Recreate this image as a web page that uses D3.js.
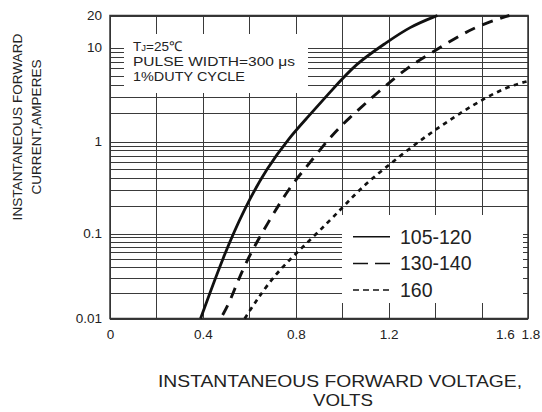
<!DOCTYPE html>
<html>
<head>
<meta charset="utf-8">
<script src="https://cdn.jsdelivr.net/npm/d3@7"></script>
<style>
  body { margin: 0; background: #fff; }
  svg text { font-family: 'Liberation Sans', Arial, sans-serif; fill: #222; }
</style>
</head>
<body>
<div id="chart"></div>
<script>
// forward voltage (V) vs instantaneous forward current (A)
const solidV = [0.39, 0.49, 0.58, 0.675, 0.775, 0.84, 0.95, 1.06, 1.185, 1.29, 1.41];
const solidI = [0.010, 0.056, 0.19, 0.515, 1.12, 1.69, 3.4, 6.8, 10.9, 15.7, 20];

const dashV = [0.485, 0.517, 0.58, 0.682, 0.775, 0.847, 0.948, 1.02, 1.156, 1.284, 1.392, 1.52, 1.62, 1.72];
const dashI = [0.011, 0.0158, 0.0446, 0.134, 0.323, 0.53, 1.12, 1.69, 3.39, 6.25, 9.0, 13.6, 17.1, 20];

const dotV = [0.58, 0.632, 0.718, 0.876, 1.004, 1.09, 1.185, 1.292, 1.40, 1.508, 1.615, 1.71, 1.80];
const dotI = [0.010, 0.0165, 0.0355, 0.091, 0.194, 0.33, 0.515, 0.85, 1.33, 2.01, 2.9, 3.8, 4.4];

const seriesNames = ['105-120', '130-140', '160'];

const xGrid = [0, 0.2, 0.4, 0.6, 0.8, 1.0, 1.2, 1.4, 1.6, 1.8];
const yGrid = [
  0.01, 0.02, 0.03, 0.04, 0.05, 0.06, 0.07, 0.08, 0.09,
  0.1, 0.2, 0.3, 0.4, 0.5, 0.6, 0.7, 0.8, 0.9,
  1, 2, 3, 4, 5, 6, 7, 8, 9,
  10, 20,
];
const yTickValues = [0.01, 0.1, 1, 10, 20];
const yTickLabels = ['0.01', '0.1', '1', '10', '20'];
// the source sheet prints the last two labels off their grid lines
const xTickAt = [0, 0.4, 0.8, 1.2, 1.7, 1.81];
const xTickLabels = ['0', '0.4', '0.8', '1.2', '1.6', '1.8'];

const noteLines = ['PULSE WIDTH=300 μs', '1%DUTY CYCLE'];

const width = 542;
const height = 412;
const plot = { left: 110, right: 528, top: 15.5, bottom: 318.5 };

const svg = d3.select('#chart').append('svg')
  .attr('width', width)
  .attr('height', height);

svg.append('rect').attr('width', width).attr('height', height).attr('fill', '#fff');

const x = d3.scaleLinear().domain([0, 1.8]).range([plot.left, plot.right]);
// decades on the sheet are not quite equal, so anchor each decade
const y = d3.scaleLog()
  .domain([0.01, 0.1, 1, 10, 20])
  .range([plot.bottom, 233.5, 141.5, 47.5, plot.top]);

// --- grid ---
const grid = svg.append('g').attr('stroke', '#3a3a3a').attr('stroke-width', 1);
grid.selectAll('line.v')
  .data(xGrid)
  .join('line')
  .attr('class', 'v')
  .attr('x1', (d) => Math.round(x(d)) + 0.5)
  .attr('x2', (d) => Math.round(x(d)) + 0.5)
  .attr('y1', plot.top)
  .attr('y2', plot.bottom);
grid.selectAll('line.h')
  .data(yGrid)
  .join('line')
  .attr('class', 'h')
  .attr('x1', plot.left)
  .attr('x2', plot.right)
  .attr('y1', (d) => Math.round(y(d)) + 0.5)
  .attr('y2', (d) => Math.round(y(d)) + 0.5);

// white panels that blank the grid behind the note and the legend
svg.append('rect').attr('x', 124).attr('y', 34).attr('width', 184).attr('height', 59).attr('fill', '#fff');
svg.append('rect').attr('x', 342).attr('y', 215).attr('width', 181).attr('height', 88).attr('fill', '#fff');

// frame
svg.append('rect')
  .attr('x', plot.left)
  .attr('y', plot.top)
  .attr('width', plot.right - plot.left)
  .attr('height', plot.bottom - plot.top)
  .attr('fill', 'none')
  .attr('stroke', '#333')
  .attr('stroke-width', 1.5);

// --- curves ---
const series = [
  { v: solidV, i: solidI, dash: null, w: 2.8 },
  { v: dashV, i: dashI, dash: '11,8', w: 2.9 },
  { v: dotV, i: dotI, dash: '4.5,4.5', w: 2.7 },
];
const line = d3.line()
  .x((d) => x(d[0]))
  .y((d) => y(d[1]))
  .curve(d3.curveBasis);

svg.append('g')
  .selectAll('path')
  .data(series)
  .join('path')
  .attr('d', (s) => line(d3.zip(s.v, s.i)))
  .attr('fill', 'none')
  .attr('stroke', '#111')
  .attr('stroke-width', (s) => s.w)
  .attr('stroke-dasharray', (s) => s.dash);

// --- axes labels ---
const yAxis = svg.append('g')
  .attr('transform', `translate(${plot.left},0)`)
  .call(d3.axisLeft(y).tickValues(yTickValues).tickSize(0).tickPadding(8)
    .tickFormat((d, k) => yTickLabels[k]));
yAxis.select('.domain').remove();
yAxis.selectAll('text').attr('font-size', 13.5).attr('fill', '#222');

const xAxis = svg.append('g')
  .attr('transform', `translate(0,${plot.bottom})`)
  .call(d3.axisBottom(x).tickValues(xTickAt).tickSize(0).tickPadding(11)
    .tickFormat((d, k) => xTickLabels[k]));
xAxis.select('.domain').remove();
xAxis.selectAll('text').attr('font-size', 13.5).attr('fill', '#222');

// y title
const yTitle = svg.append('text')
  .attr('transform', 'translate(22,127) rotate(-90)')
  .attr('text-anchor', 'middle')
  .attr('font-size', 13.6);
yTitle.append('tspan').attr('x', 0).attr('y', 0).text('INSTANTANEOUS FORWARD');
yTitle.append('tspan').attr('x', 0).attr('y', 18.5).text('CURRENT,AMPERES');

// x title
svg.append('text')
  .attr('x', 340)
  .attr('y', 387)
  .attr('text-anchor', 'middle')
  .attr('font-size', 16.5)
  .attr('textLength', 364)
  .attr('lengthAdjust', 'spacingAndGlyphs')
  .text('INSTANTANEOUS FORWARD VOLTAGE,');
svg.append('text')
  .attr('x', 343)
  .attr('y', 406)
  .attr('text-anchor', 'middle')
  .attr('font-size', 16.5)
  .attr('textLength', 60)
  .attr('lengthAdjust', 'spacingAndGlyphs')
  .text('VOLTS');

// --- test condition note ---
svg.append('text')
  .attr('x', 133)
  .attr('y', 51)
  .attr('font-size', 13.5)
  .text('T')
  .append('tspan')
  .attr('font-size', 9.5)
  .text('J')
  .append('tspan')
  .attr('font-size', 13.5)
  .text('=25℃');
noteLines.forEach((t, k) => {
  svg.append('text')
    .attr('x', 133)
    .attr('y', 66 + k * 15)
    .attr('font-size', 13.5)
    .attr('textLength', k === 0 ? 162 : 112)
    .attr('lengthAdjust', 'spacingAndGlyphs')
    .text(t);
});

// --- legend ---
const legend = svg.append('g')
  .selectAll('g')
  .data(series)
  .join('g')
  .attr('transform', (s, k) => `translate(353,${236.7 + k * 26.7})`);
legend.append('line')
  .attr('x1', 0)
  .attr('x2', 37)
  .attr('stroke', '#111')
  .attr('stroke-width', 1.5)
  .attr('stroke-dasharray', (s, k) => (k === 1 ? '15,7' : k === 2 ? '6,4' : null));
legend.append('text')
  .attr('x', 47)
  .attr('dy', '0.36em')
  .attr('font-size', 19.5)
  .text((s, k) => seriesNames[k]);
</script>
</body>
</html>
